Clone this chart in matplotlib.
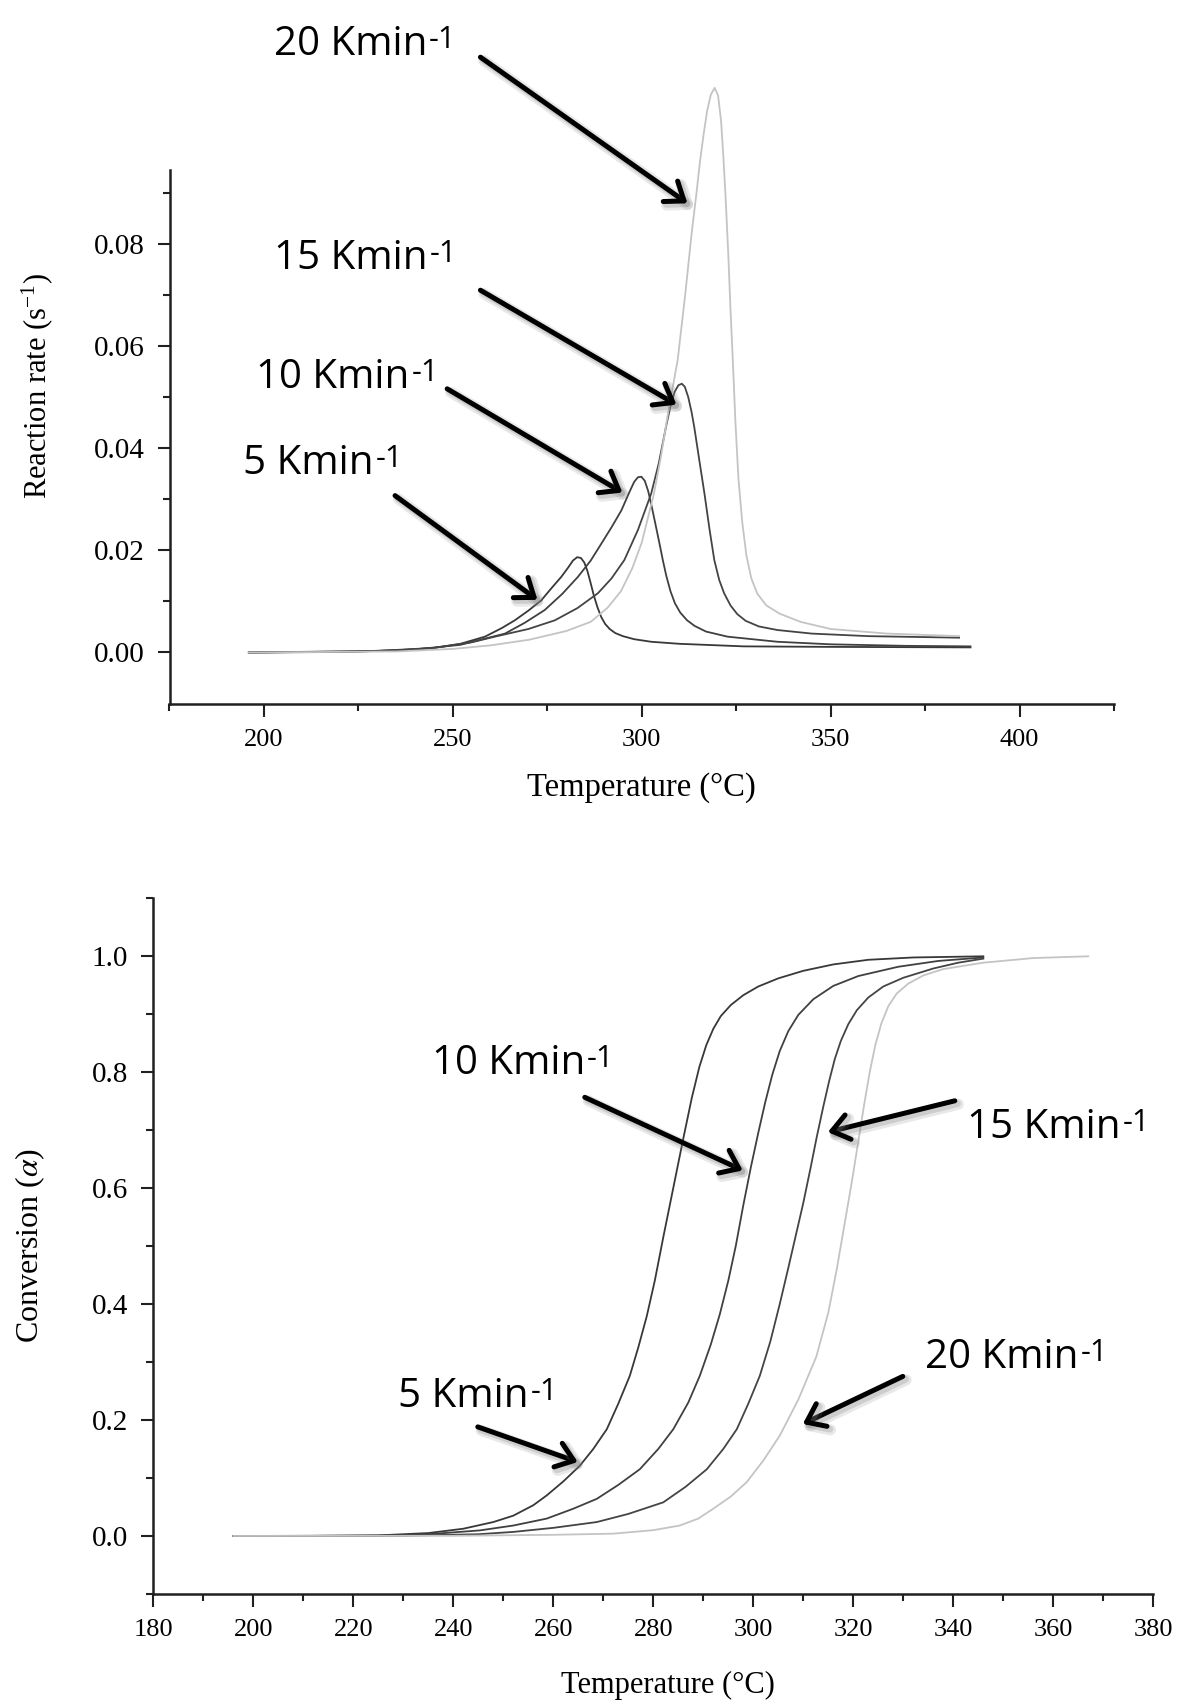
import matplotlib
matplotlib.use("Agg")
import matplotlib.pyplot as plt
from matplotlib.ticker import MultipleLocator, FormatStrFormatter, FixedLocator
import matplotlib.patheffects as pe

plt.rcParams["mathtext.fontset"] = "stix"
plt.rcParams["font.family"] = ["Liberation Serif", "DejaVu Serif"]

# ---------------- data: reaction rate (top panel) ----------------
rate_T_5 = [196, 220, 235, 245, 252, 258.5, 263, 266.4, 270, 273.4, 276, 278.7, 280.5, 281.8, 282.9,
            283.9, 284.8, 285.6, 286.4, 287.3, 288.3, 289.3, 290.3, 291.5, 293, 295, 298, 302.5, 310,
            327, 350, 387]
rate_5 = [0, 0.0001, 0.0004, 0.0009, 0.0017, 0.0031, 0.0048, 0.0063, 0.0082, 0.0102, 0.0125, 0.0148,
          0.0166, 0.0180, 0.01865, 0.0185, 0.0176, 0.0160, 0.0138, 0.0112, 0.0088, 0.0069, 0.0056,
          0.0046, 0.0038, 0.0032, 0.0026, 0.0021, 0.0017, 0.0012, 0.0011, 0.0010]

rate_T_10 = [196, 225, 240, 252, 263.8, 269, 274.3, 279, 283.1, 286.5, 289.3, 292, 294.6, 296.8, 298.0,
             299.0, 299.9, 300.8, 301.7, 302.6, 303.6, 304.7, 305.6, 306.5, 307.6, 308.8, 310.2, 312,
             314, 317, 322.7, 335.9, 350, 370, 387]
rate_10 = [0, 0.0002, 0.0006, 0.0015, 0.0037, 0.0058, 0.0083, 0.0115, 0.0148, 0.0180, 0.0213, 0.0245,
           0.0278, 0.0315, 0.0334, 0.0343, 0.0344, 0.0336, 0.0316, 0.0287, 0.0252, 0.0213, 0.0180,
           0.0150, 0.0120, 0.0096, 0.0078, 0.0063, 0.0052, 0.0041, 0.0031, 0.0021, 0.0016, 0.0013,
           0.0012]

rate_T_15 = [196, 230, 245, 255, 261.1, 270, 277, 283, 288.4, 292, 295.4, 299, 302.5, 304.5, 306.4,
             307.6, 308.7, 309.7, 310.6, 311.4, 312.3, 313.2, 313.9, 315.2, 316.6, 317.9, 319.2, 320.5,
             321.8, 323.5, 325.3, 327.5, 331, 335.9, 345, 360, 384]
rate_15 = [0, 0.0003, 0.0009, 0.0020, 0.0031, 0.0046, 0.0063, 0.0087, 0.0116, 0.0145, 0.0181, 0.0240,
           0.0311, 0.0370, 0.0441, 0.0482, 0.0510, 0.0523, 0.0526, 0.0520, 0.0500, 0.0470, 0.0441,
           0.0378, 0.0311, 0.0243, 0.0181, 0.0142, 0.0116, 0.0092, 0.0075, 0.0062, 0.0051, 0.0044,
           0.0037, 0.0032, 0.0029]

rate_T_20 = [196, 235, 250, 260, 270.2, 280, 286.5, 291, 294.5, 297.5, 300, 303.2, 305, 307, 309.5,
             311.5, 313.2, 314.5, 315.4, 316.3, 317.3, 318.3, 319.3, 320.2, 321.0, 321.6, 322.2, 322.9,
             323.5, 324.1, 324.8, 325.6, 326.6, 327.7, 329, 330.6, 333, 336.5, 342, 350, 365, 384]
rate_20 = [0, 0.0002, 0.0007, 0.0014, 0.0025, 0.0042, 0.0060, 0.0088, 0.0120, 0.0165, 0.0215, 0.0310,
           0.0380, 0.0470, 0.0572, 0.0700, 0.0820, 0.0900, 0.0960, 0.1010, 0.1060, 0.1092, 0.1105,
           0.1090, 0.1040, 0.0970, 0.0890, 0.0780, 0.0670, 0.0572, 0.0450, 0.0340, 0.0255, 0.0190,
           0.0145, 0.0115, 0.0092, 0.0076, 0.0060, 0.0046, 0.0037, 0.0032]

# ---------------- data: conversion (bottom panel) ----------------
conv_T_5 = [196, 210, 225, 235, 242, 248, 252, 256, 258.7, 262, 265.3, 268, 270.7, 273, 275.3, 277,
            278.7, 280.3, 282, 284, 286, 287.7, 289.2, 290.6, 292, 293.5, 295.5, 298, 301, 305, 310,
            316, 323, 332, 346]
conv_5 = [0, 0, 0.001, 0.005, 0.0125, 0.024, 0.035, 0.053, 0.070, 0.094, 0.121, 0.150, 0.184, 0.228,
          0.276, 0.325, 0.379, 0.44, 0.515, 0.60, 0.685, 0.755, 0.808, 0.846, 0.874, 0.896, 0.915,
          0.932, 0.947, 0.961, 0.974, 0.985, 0.993, 0.997, 0.999]

conv_T_10 = [196, 225, 235, 245.3, 252, 258.7, 264, 268.7, 273, 277.3, 281, 284, 287, 289.3, 291.5,
             293.3, 295, 296.5, 298, 299.5, 301, 302.4, 303.8, 305.3, 307, 309, 312, 316, 321, 329,
             337, 346]
conv_10 = [0, 0.0005, 0.003, 0.0096, 0.018, 0.030, 0.047, 0.064, 0.088, 0.115, 0.150, 0.184, 0.230,
           0.276, 0.33, 0.382, 0.44, 0.50, 0.57, 0.635, 0.695, 0.748, 0.795, 0.836, 0.87, 0.898,
           0.925, 0.948, 0.965, 0.981, 0.991, 0.997]

conv_T_15 = [196, 230, 245, 252, 260, 268.7, 275, 282, 286.5, 290.7, 294, 296.7, 299, 301.3, 303.4,
             305.3, 307, 308.5, 310, 311.4, 312.7, 314, 315.2, 316.3, 317.5, 319, 320.7, 323, 326, 330,
             336, 341, 346]
conv_15 = [0, 0.0005, 0.003, 0.007, 0.014, 0.024, 0.038, 0.058, 0.085, 0.115, 0.150, 0.184, 0.228,
           0.276, 0.335, 0.400, 0.462, 0.518, 0.574, 0.632, 0.688, 0.74, 0.785, 0.822, 0.853, 0.882,
           0.906, 0.928, 0.947, 0.962, 0.978, 0.988, 0.995]

conv_T_20 = [196, 240, 260, 272, 280, 285.3, 289, 292, 295.5, 298.7, 302, 305.3, 309, 312.6, 315,
             316.7, 318.3, 319.7, 321, 322.2, 323.3, 324.4, 325.6, 327, 328.7, 331, 334, 338, 346,
             356, 367]
conv_20 = [0, 0.0003, 0.002, 0.004, 0.010, 0.018, 0.03, 0.047, 0.068, 0.093, 0.13, 0.173, 0.235,
           0.309, 0.385, 0.46, 0.54, 0.61, 0.68, 0.745, 0.80, 0.846, 0.883, 0.913, 0.935, 0.952,
           0.966, 0.977, 0.988, 0.996, 0.999]

heating_rates = ["5", "10", "15", "20"]
curve_colors = ["#383838", "#404040", "#444444", "#c4c4c4"]

# annotations: (label, text xy, arrow start, arrow tip) in data units
top_notes = [
    ("20", (202.6, 0.1169), (257.3, 0.1165), (312.1, 0.0879)),
    ("15", (202.6, 0.0750), (257.3, 0.0709), (309.2, 0.0485)),
    ("10", (197.9, 0.0518), (248.5, 0.0516), (294.9, 0.0313)),
    ("5", (194.4, 0.0350), (234.7, 0.0307), (272.4, 0.0103)),
]
bottom_notes = [
    ("10", (235.7, 0.797), (266.3, 0.756), (297.9, 0.630)),
    ("15", (342.7, 0.686), (340.3, 0.750), (314.9, 0.696)),
    ("20", (334.3, 0.290), (329.9, 0.275), (309.9, 0.193)),
    ("5", (228.9, 0.222), (244.9, 0.188), (264.9, 0.1275)),
]

W, H = 1179, 1702
fig = plt.figure(figsize=(W / 100, H / 100), dpi=100)

ax1 = fig.add_axes([169.5 / W, 1 - 703.6 / H, (1114 - 169.5) / W, (703.6 - 169.6) / H])
ax2 = fig.add_axes([153.3 / W, 1 - 1594 / H, 1000 / W, (1594 - 897.7) / H])

for T, r, c in zip([rate_T_5, rate_T_10, rate_T_15, rate_T_20],
                   [rate_5, rate_10, rate_15, rate_20], curve_colors):
    ax1.plot(T, r, color=c, lw=1.3, clip_on=False, solid_joinstyle="round")
for T, a, c in zip([conv_T_5, conv_T_10, conv_T_15, conv_T_20],
                   [conv_5, conv_10, conv_15, conv_20], curve_colors):
    ax2.plot(T, a, color=c, lw=1.3, clip_on=False, solid_joinstyle="round")

ax1.set_xlim(175, 425)
ax1.set_ylim(-0.01, 0.0945)
ax2.set_xlim(180, 380)
ax2.set_ylim(-0.1, 1.1)

ax1.xaxis.set_major_locator(MultipleLocator(50))
ax1.xaxis.set_minor_locator(FixedLocator([175, 225, 275, 325, 375, 425]))
ax1.yaxis.set_major_locator(FixedLocator([0, 0.02, 0.04, 0.06, 0.08]))
ax1.yaxis.set_minor_locator(FixedLocator([0.01, 0.03, 0.05, 0.07, 0.09]))
ax1.yaxis.set_major_formatter(FormatStrFormatter("%.2f"))
ax1.xaxis.set_major_formatter(FormatStrFormatter("%d"))

ax2.xaxis.set_major_locator(MultipleLocator(20))
ax2.xaxis.set_minor_locator(MultipleLocator(10))
ax2.yaxis.set_major_locator(FixedLocator([0, 0.2, 0.4, 0.6, 0.8, 1.0]))
ax2.yaxis.set_minor_locator(FixedLocator([-0.1, 0.1, 0.3, 0.5, 0.7, 0.9, 1.1]))
ax2.yaxis.set_major_formatter(FormatStrFormatter("%.1f"))
ax2.xaxis.set_major_formatter(FormatStrFormatter("%d"))

for ax in (ax1, ax2):
    for s in ("top", "right"):
        ax.spines[s].set_visible(False)
    for s in ("left", "bottom"):
        ax.spines[s].set_linewidth(1.8)
        ax.spines[s].set_color("#202020")
    ax.tick_params(which="major", direction="out", length=9, width=1.5, color="#202020", pad=9)
    ax.tick_params(which="minor", direction="out", length=5, width=1.5, color="#202020")
    ax.tick_params(axis="x", labelsize=19)
    ax.tick_params(axis="y", labelsize=21)
    ax.set_facecolor("none")

ax1.set_xlabel("Temperature (°C)", fontsize=23.5)
ax1.set_ylabel(r"Reaction rate (s$^{\mathregular{-1}}$)", fontsize=22)
ax1.xaxis.set_label_coords(0.5, -0.158)
ax1.xaxis.label.set_va("center")
ax1.yaxis.set_label_coords(-0.139, 0.595)
ax1.yaxis.label.set_va("center")

ax2.set_xlabel("Temperature (°C)", fontsize=22)
ax2.set_ylabel(r"Conversion ($\mathit{\alpha}$)", fontsize=23)
ax2.xaxis.set_label_coords(0.515, -0.131)
ax2.xaxis.label.set_va("center")
ax2.yaxis.set_label_coords(-0.123, 0.5)
ax2.yaxis.label.set_va("center")

shadow = [pe.SimpleLineShadow(offset=(2.5, -2.5), shadow_color="#808080", alpha=0.18, linewidth=8),
          pe.SimpleLineShadow(offset=(2.0, -2.0), shadow_color="#808080", alpha=0.25, linewidth=5),
          pe.Normal()]
note_font = ["Open Sans", "DejaVu Sans"]


def annotate(ax, notes):
    for lab, txy, start, tip in notes:
        t = ax.text(txy[0], txy[1], lab + " Kmin", family=note_font, fontsize=29,
                    ha="left", va="baseline", color="black", clip_on=False)
        ax.annotate("-1", xy=(1, 1), xycoords=t, xytext=(1.5, -0.5), textcoords="offset points",
                    family=note_font, fontsize=22, ha="left", va="top", color="black",
                    annotation_clip=False)
        ax.annotate("", xy=tip, xytext=start, annotation_clip=False,
                    arrowprops=dict(arrowstyle="->,head_length=0.6,head_width=0.45", lw=3.6,
                                    color="black", mutation_scale=20, shrinkA=0, shrinkB=0,
                                    path_effects=shadow))


annotate(ax1, top_notes)
annotate(ax2, bottom_notes)

fig.savefig("out.png", dpi=100, facecolor="white")
